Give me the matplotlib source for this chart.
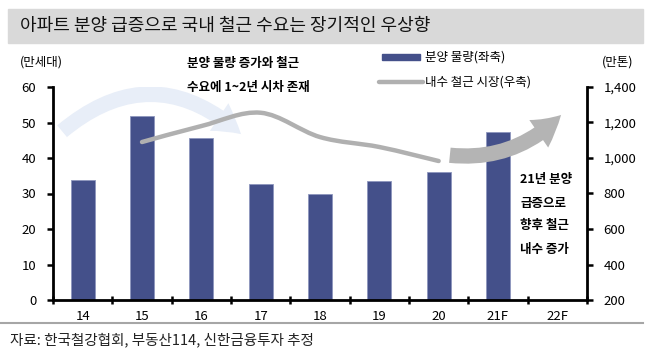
import numpy as np
import matplotlib
matplotlib.use("Agg")
import matplotlib.pyplot as plt
from matplotlib.patches import Rectangle, FancyArrowPatch, PathPatch
from matplotlib.path import Path
from matplotlib.lines import Line2D
from matplotlib.ticker import FuncFormatter

plt.rcParams['font.family'] = ['Noto Sans CJK KR', 'DejaVu Sans']

# data
years = ['14', '15', '16', '17', '18', '19', '20', '21F', '22F']
presale = [33.7, 51.8, 45.6, 32.7, 29.8, 33.6, 36.1, 47.2, None]      # 만세대 (left)
rebar = [None, 1090, 1180, 1255, 1118, 1062, 983, None, None]         # 만톤 (right)

title = '아파트 분양 급증으로 국내 철근 수요는 장기적인 우상향'
source = '자료: 한국철강협회, 부동산114, 신한금융투자 추정'
note_top = ['분양 물량 증가와 철근', '수요에 1~2년 시차 존재']
note_right = ['21년 분양', '급증으로', '향후 철근', '내수 증가']
legend_labels = ['분양 물량(좌축)', '내수 철근 시장(우축)']

BAR = '#44508a'
LINE = '#b0b0b0'
W, H = 648, 355


def fx(px):
    return px / W


def fy(py):
    return 1 - py / H


fig = plt.figure(figsize=(6.48, 3.55), dpi=100)
ax = fig.add_axes([fx(53), fy(300), fx(587) - fx(53), fy(87) - fy(300)])
ax2 = ax.twinx()

# bars
x = np.arange(len(years))
bx = [i for i, v in enumerate(presale) if v is not None]
bv = [v for v in presale if v is not None]
ax.bar(bx, bv, width=0.41, color=BAR, edgecolor='#8d96bd', linewidth=0.6, zorder=2)

# smooth line through the rebar points (Bezier path built from the data)
pts = [(i, v) for i, v in enumerate(rebar) if v is not None]
P = np.array(pts, dtype=float)
verts = [tuple(P[0])]
codes = [Path.MOVETO]
for i in range(len(P) - 1):
    p0 = P[max(i - 1, 0)]
    p1, p2 = P[i], P[i + 1]
    p3 = P[min(i + 2, len(P) - 1)]
    c1 = p1 + (p2 - p0) / 6
    c2 = p2 - (p3 - p1) / 6
    verts += [tuple(c1), tuple(c2), tuple(p2)]
    codes += [Path.CURVE4] * 3
ax2.add_patch(PathPatch(Path(verts, codes), facecolor='none', edgecolor=LINE,
                        linewidth=3.2, capstyle='round', zorder=4))

# decorative arrows
blue_arrow = FancyArrowPatch((0.013, 0.784), (0.356, 0.770), transform=ax.transAxes,
                             connectionstyle='arc3,rad=-0.44',
                             arrowstyle='simple,tail_width=11,head_width=24,head_length=20',
                             mutation_scale=1, color='#e8eef8', linewidth=0, zorder=0.5)
ax.add_patch(blue_arrow)
gray_arrow = FancyArrowPatch((0.738, 0.681), (0.955, 0.878), transform=ax2.transAxes,
                             connectionstyle='arc3,rad=0.25',
                             arrowstyle='simple,tail_width=11,head_width=24,head_length=21',
                             mutation_scale=1, color='#b4b4b4', linewidth=0, zorder=3)
ax2.add_patch(gray_arrow)

# axes styling
ax.set_xlim(-0.5, len(years) - 0.5)
ax.set_ylim(0, 60)
ax.set_yticks(range(0, 61, 10))
ax2.set_ylim(200, 1400)
ax2.set_yticks(range(200, 1401, 200))
ax2.yaxis.set_major_formatter(FuncFormatter(lambda v, p: f'{int(v):,}'))

ax.set_xticks(x)
ax.set_xticklabels(years)
ax.set_xticks(np.arange(-0.5, len(years), 1), minor=True)
ax.tick_params(axis='x', which='major', length=0, pad=7, labelsize=9.5)
ax.tick_params(axis='x', which='minor', direction='inout', length=6, width=1.8)
ax.tick_params(axis='y', direction='out', length=4, width=1.8, pad=8, labelsize=9.5)
ax2.tick_params(axis='y', direction='out', length=4, width=1.8, pad=8, labelsize=9.5)

for s in ['top', 'right']:
    ax.spines[s].set_visible(False)
for s in ['top', 'left', 'bottom']:
    ax2.spines[s].set_visible(False)
ax.spines['left'].set_linewidth(2)
ax.spines['bottom'].set_linewidth(2)
ax2.spines['right'].set_linewidth(2)

# title band
fig.add_artist(Rectangle((fx(8), fy(43)), fx(643) - fx(8), fy(9) - fy(43),
                         transform=fig.transFigure, color='#d9d9d9', zorder=0))
fig.text(fx(20), fy(26), title, fontsize=13, fontweight='medium',
         va='center', ha='left', color='#111111')

# unit labels
fig.text(fx(41), fy(62), '(만세대)', fontsize=9, ha='center', va='center')
fig.text(fx(618), fy(62), '(만톤)', fontsize=9, ha='center', va='center')

# annotations
for line, py in zip(note_top, [63, 87]):
    fig.text(fx(187), fy(py), line, fontsize=9, fontweight='bold', ha='left', va='center')
for line, py in zip(note_right, [180, 203, 226, 250]):
    fig.text(fx(520), fy(py), line, fontsize=9, fontweight='bold', ha='left', va='center')

# legend drawn by hand
fig.add_artist(Rectangle((fx(382), fy(60)), fx(420) - fx(382), fy(54) - fy(60),
                         transform=fig.transFigure, color=BAR))
fig.add_artist(Line2D([fx(379), fx(423)], [fy(82), fy(82)], transform=fig.transFigure,
                      color=LINE, linewidth=3.2, solid_capstyle='round'))
fig.text(fx(425), fy(57), legend_labels[0], fontsize=9, ha='left', va='center')
fig.text(fx(425), fy(82), legend_labels[1], fontsize=9, ha='left', va='center')

# footer
fig.add_artist(Line2D([0, fx(643)], [fy(323), fy(323)], transform=fig.transFigure,
                      color='#a6a6a6', linewidth=1.5))
fig.text(fx(10), fy(340), source, fontsize=10.5, ha='left', va='center', color='#222222')

fig.savefig('out.png', dpi=100)
